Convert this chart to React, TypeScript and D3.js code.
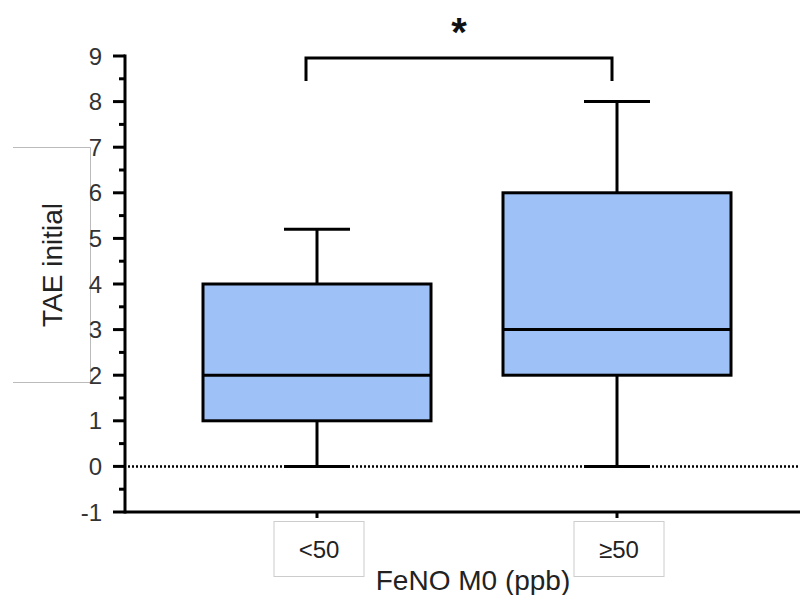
import React from "react";
import * as d3 from "d3";

const categories = ["<50", "≥50"];
const whiskerLow = [0, 0];
const q1 = [1, 2];
const median = [2, 3];
const q3 = [4, 6];
const whiskerHigh = [5.2, 8];
const yTicks = [-1, 0, 1, 2, 3, 4, 5, 6, 7, 8, 9];
const yMinorTicks = [-0.5, 0.5, 1.5, 2.5, 3.5, 4.5, 5.5, 6.5, 7.5, 8.5];
const yTitle = "TAE initial";
const xTitle = "FeNO M0 (ppb)";
const sigLabel = "*";

const W = 800;
const H = 595;

export default function App() {
  const y = d3.scaleLinear().domain([-1, 9]).range([512, 56]);
  const x = d3.scaleBand<string>().domain(categories).range([167, 767]).padding(0);
  const bw = x.bandwidth();
  const cx = (c: string) => (x(c) as number) + bw / 2;
  const boxW = bw * 0.76;
  const capW = bw * 0.22;
  const axisX = 125;
  const font = "Arial, 'Liberation Sans', sans-serif";

  const c0 = cx(categories[0]);
  const c1 = cx(categories[1]);

  return (
    <svg
      width={W}
      height={H}
      style={{ position: "absolute", left: 0, top: 0, background: "#fff" }}
      fontFamily={font}
    >
      <rect x={0} y={0} width={W} height={H} fill="#fff" />
      {/* y title frame */}
      <path d="M13,147.5 H90.5 V382.5 H13" fill="none" stroke="#bbb" strokeWidth={1} />
      <text
        transform={`translate(62,265) rotate(-90)`}
        textAnchor="middle"
        fontSize={28}
        fill="#222"
      >
        {yTitle}
      </text>

      {/* zero dotted line */}
      <line x1={axisX + 3} x2={W} y1={y(0)} y2={y(0)} stroke="#000" strokeWidth={2.5} strokeDasharray="2,2" />

      {/* boxes */}
      {categories.map((c, i) => {
        const xc = cx(c);
        return (
          <g key={c} stroke="#000" strokeWidth={3}>
            <line x1={xc} x2={xc} y1={y(whiskerHigh[i])} y2={y(q3[i])} />
            <line x1={xc} x2={xc} y1={y(q1[i])} y2={y(whiskerLow[i])} />
            <line x1={xc - capW / 2} x2={xc + capW / 2} y1={y(whiskerHigh[i])} y2={y(whiskerHigh[i])} />
            <line x1={xc - capW / 2} x2={xc + capW / 2} y1={y(whiskerLow[i])} y2={y(whiskerLow[i])} />
            <rect
              x={xc - boxW / 2}
              y={y(q3[i])}
              width={boxW}
              height={y(q1[i]) - y(q3[i])}
              fill="#9ec2f7"
            />
            <line x1={xc - boxW / 2} x2={xc + boxW / 2} y1={y(median[i])} y2={y(median[i])} />
          </g>
        );
      })}

      {/* y axis */}
      <line x1={axisX} x2={axisX} y1={y(9) - 1.5} y2={y(-1) + 1.5} stroke="#000" strokeWidth={3} />
      {yTicks.map((t) => (
        <g key={t}>
          <line x1={axisX - 12} x2={axisX} y1={y(t)} y2={y(t)} stroke="#000" strokeWidth={3} />
          <text x={102} y={y(t)} dy="0.36em" textAnchor="end" fontSize={24} fill="#333">
            {t}
          </text>
        </g>
      ))}
      {yMinorTicks.map((t) => (
        <line key={t} x1={axisX - 6} x2={axisX} y1={y(t)} y2={y(t)} stroke="#000" strokeWidth={3} />
      ))}

      {/* x axis */}
      <line x1={axisX} x2={W} y1={y(-1)} y2={y(-1)} stroke="#000" strokeWidth={3} />
      {categories.map((c) => (
        <g key={c}>
          <line x1={cx(c)} x2={cx(c)} y1={y(-1)} y2={y(-1) + 6} stroke="#000" strokeWidth={3} />
          <rect x={cx(c) - 43} y={521.5} width={90} height={55} fill="#fff" stroke="#ccc" strokeWidth={1} />
          <text x={cx(c) + 2} y={558} textAnchor="middle" fontSize={24} fill="#222">
            {c}
          </text>
        </g>
      ))}
      <text x={473} y={590} textAnchor="middle" fontSize={28} fill="#222">
        {xTitle}
      </text>

      {/* significance bracket */}
      <path
        d={`M${c0 - 11},${y(8.45)} V${y(9) + 2} H${c1 - 5} V${y(8.45)}`}
        fill="none"
        stroke="#000"
        strokeWidth={3}
      />
      <text x={459} y={46} textAnchor="middle" fontSize={40} fontWeight="bold" fill="#111">
        {sigLabel}
      </text>
    </svg>
  );
}
